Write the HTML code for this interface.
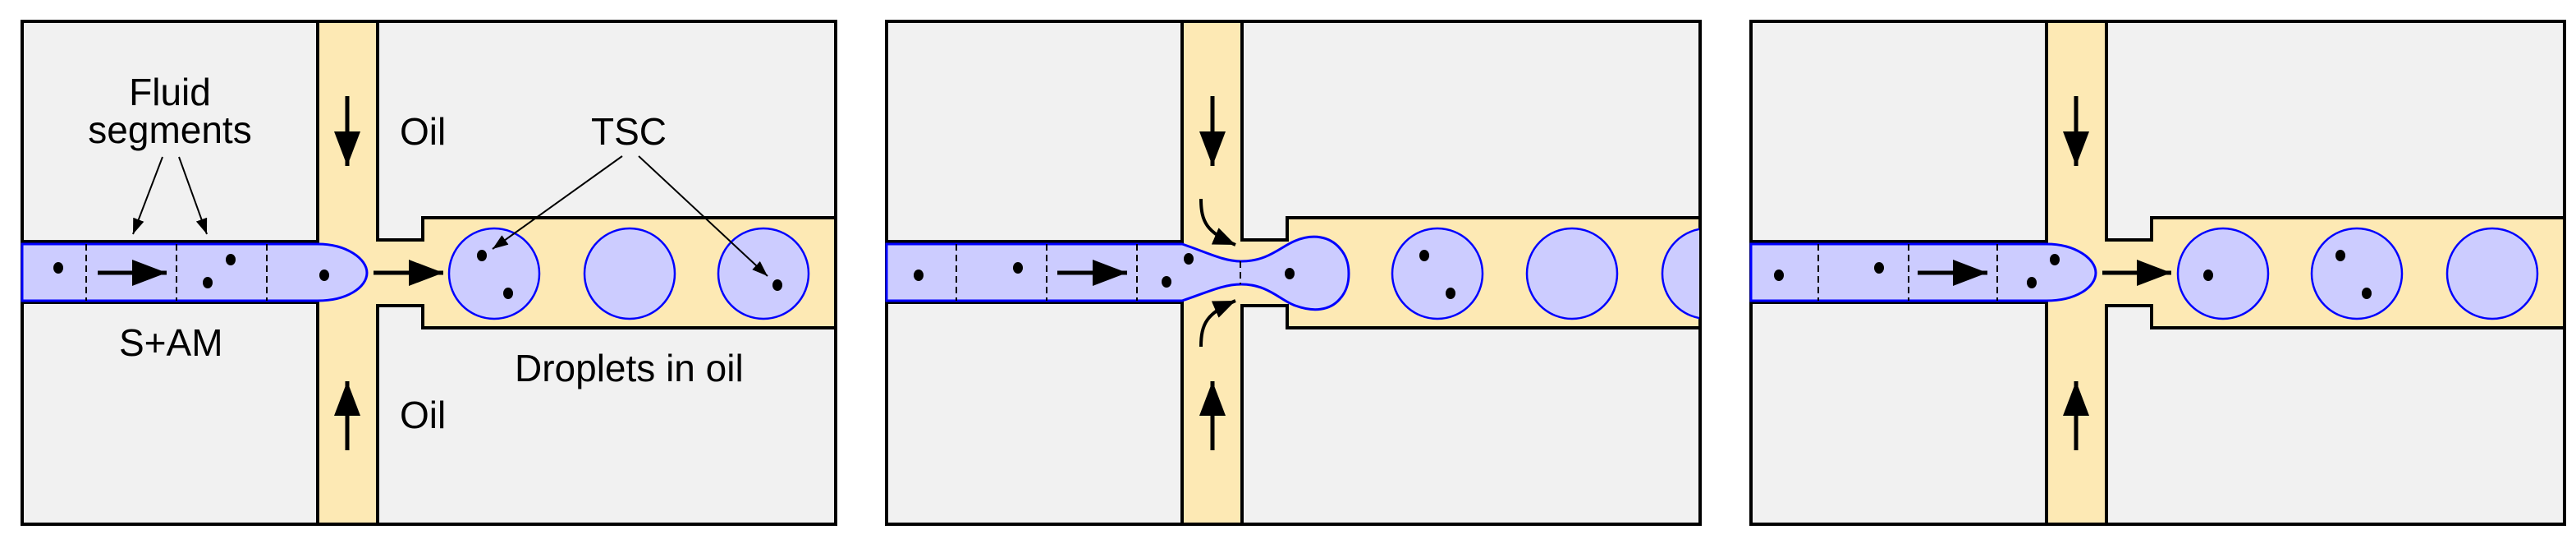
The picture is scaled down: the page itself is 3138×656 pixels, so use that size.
<!DOCTYPE html>
<html><head><meta charset="utf-8"><style>
html,body{margin:0;padding:0;background:#fff;}
svg{display:block;}
text{font-family:"Liberation Sans",Arial,sans-serif;font-size:46px;fill:#000;}
</style></head><body>
<svg width="3138" height="656" viewBox="0 0 3138 656" xmlns="http://www.w3.org/2000/svg">
<defs>
<marker id="big" markerUnits="userSpaceOnUse" markerWidth="44" markerHeight="32" refX="42" refY="16" orient="auto"><path d="M0,0 L42,16 L0,32 Z" fill="#000"/></marker>
<marker id="mid" markerUnits="userSpaceOnUse" markerWidth="28" markerHeight="22" refX="27" refY="11" orient="auto"><path d="M0,0 L27,11 L0,22 Z" fill="#000"/></marker>
<marker id="sm" markerUnits="userSpaceOnUse" markerWidth="20" markerHeight="14" refX="19" refY="7" orient="auto"><path d="M0,0 L19,7 L0,14 Z" fill="#000"/></marker>
<g id="panel">
  <rect x="0" y="26" width="991" height="612" fill="#f1f1f1"/>
  <path d="M360,26 H433 V292 H488 V265 H991 V399 H488 V372 H433 V638 H360 V368 H0 V294 H360 Z" fill="#fde9b4"/>
  <g fill="none" stroke="#000" stroke-width="4">
    <polyline points="360,26 360,294 0,294"/>
    <polyline points="0,368 360,368 360,638"/>
    <polyline points="433,26 433,292 488,292 488,265 991,265"/>
    <polyline points="433,638 433,372 488,372 488,399 991,399"/>
    <rect x="0" y="26" width="991" height="612"/>
  </g>
</g>
<clipPath id="c2"><rect x="1080" y="200" width="990" height="300"/></clipPath>
</defs>

<use href="#panel" x="27"/>
<use href="#panel" x="1080"/>
<use href="#panel" x="2133"/>

<!-- Panel 1 -->
<path d="M27,297 H387 C422,297 447,315 447,332 C447,350 422,366 387,366 H27 Z" fill="#ccccff" stroke="#0000ff" stroke-width="3"/>
<g stroke="#000" stroke-width="2" stroke-dasharray="8,5"><line x1="105" y1="297" x2="105" y2="366"/><line x1="215" y1="297" x2="215" y2="366"/><line x1="325" y1="297" x2="325" y2="366"/></g>
<g fill="#000"><ellipse cx="71" cy="326" rx="6" ry="7"/><ellipse cx="253" cy="344" rx="6" ry="7"/><ellipse cx="281" cy="316" rx="6" ry="7"/><ellipse cx="395" cy="335" rx="6" ry="7"/></g>
<g fill="#ccccff" stroke="#0000ff" stroke-width="2.5"><circle cx="602" cy="333" r="55"/><circle cx="767" cy="333" r="55"/><circle cx="930" cy="333" r="55"/></g>
<g fill="#000"><ellipse cx="587" cy="311" rx="6" ry="7"/><ellipse cx="619" cy="357" rx="6" ry="7"/><ellipse cx="947" cy="347" rx="6" ry="7"/></g>
<g stroke="#000" stroke-width="5" fill="none" marker-end="url(#big)">
<line x1="119" y1="332" x2="203" y2="332"/><line x1="455" y1="332" x2="540" y2="332"/>
<line x1="423" y1="117" x2="423" y2="202"/><line x1="423" y1="548" x2="423" y2="464"/>
</g>
<g stroke="#000" stroke-width="2" marker-end="url(#sm)">
<line x1="198" y1="191" x2="162" y2="285"/><line x1="218" y1="191" x2="252" y2="285"/>
<line x1="758" y1="190" x2="600" y2="303"/><line x1="778" y1="190" x2="935" y2="336"/>
</g>
<text x="207" y="128" text-anchor="middle">Fluid</text>
<text x="207" y="174" text-anchor="middle">segments</text>
<text x="487" y="176">Oil</text>
<text x="487" y="521">Oil</text>
<text x="720" y="176">TSC</text>
<text x="145" y="433">S+AM</text>
<text x="627" y="464">Droplets in oil</text>

<!-- Panel 2 -->
<path d="M1080,297 H1440 C1470,307 1490,318 1512,318 C1545,318 1560,300 1578,293 C1600,284 1620,288 1632,302 C1642,313 1643,325 1643,333 C1643,341 1642,353 1632,364 C1620,378 1600,380 1578,372 C1560,366 1545,346 1512,346 C1490,346 1470,356 1440,366 H1080 Z" fill="#ccccff" stroke="#0000ff" stroke-width="3"/>
<g stroke="#000" stroke-width="2" stroke-dasharray="8,5"><line x1="1165" y1="297" x2="1165" y2="366"/><line x1="1275" y1="297" x2="1275" y2="366"/><line x1="1385" y1="297" x2="1385" y2="366"/><line x1="1511" y1="318" x2="1511" y2="346"/></g>
<g fill="#000"><ellipse cx="1119" cy="335" rx="6" ry="7"/><ellipse cx="1240" cy="326" rx="6" ry="7"/><ellipse cx="1421" cy="343" rx="6" ry="7"/><ellipse cx="1448" cy="315" rx="6" ry="7"/><ellipse cx="1571" cy="333" rx="6" ry="7"/></g>
<g clip-path="url(#c2)" fill="#ccccff" stroke="#0000ff" stroke-width="2.5"><circle cx="1751" cy="333" r="55"/><circle cx="1915" cy="333" r="55"/><circle cx="2080" cy="333" r="55"/></g>
<g fill="#000"><ellipse cx="1735" cy="311" rx="6" ry="7"/><ellipse cx="1767" cy="357" rx="6" ry="7"/></g>
<g stroke="#000" stroke-width="5" fill="none" marker-end="url(#big)">
<line x1="1288" y1="332" x2="1373" y2="332"/>
<line x1="1477" y1="117" x2="1477" y2="202"/><line x1="1477" y1="548" x2="1477" y2="464"/>
</g>
<g stroke="#000" stroke-width="4" fill="none" marker-end="url(#mid)">
<path d="M1463,242 C1463,270 1470,283 1505,298"/>
<path d="M1463,422 C1463,394 1470,381 1505,366"/>
</g>

<!-- Panel 3 -->
<path d="M2133,297 H2493 C2528,297 2553,315 2553,332 C2553,350 2528,366 2493,366 H2133 Z" fill="#ccccff" stroke="#0000ff" stroke-width="3"/>
<g stroke="#000" stroke-width="2" stroke-dasharray="8,5"><line x1="2215" y1="297" x2="2215" y2="366"/><line x1="2325" y1="297" x2="2325" y2="366"/><line x1="2433" y1="297" x2="2433" y2="366"/></g>
<g fill="#000"><ellipse cx="2167" cy="335" rx="6" ry="7"/><ellipse cx="2289" cy="326" rx="6" ry="7"/><ellipse cx="2475" cy="344" rx="6" ry="7"/><ellipse cx="2503" cy="316" rx="6" ry="7"/></g>
<g fill="#ccccff" stroke="#0000ff" stroke-width="2.5"><circle cx="2708" cy="333" r="55"/><circle cx="2871" cy="333" r="55"/><circle cx="3036" cy="333" r="55"/></g>
<g fill="#000"><ellipse cx="2690" cy="335" rx="6" ry="7"/><ellipse cx="2851" cy="311" rx="6" ry="7"/><ellipse cx="2883" cy="357" rx="6" ry="7"/></g>
<g stroke="#000" stroke-width="5" fill="none" marker-end="url(#big)">
<line x1="2336" y1="332" x2="2421" y2="332"/><line x1="2561" y1="332" x2="2645" y2="332"/>
<line x1="2529" y1="117" x2="2529" y2="202"/><line x1="2529" y1="548" x2="2529" y2="464"/>
</g>
</svg>
</body></html>
